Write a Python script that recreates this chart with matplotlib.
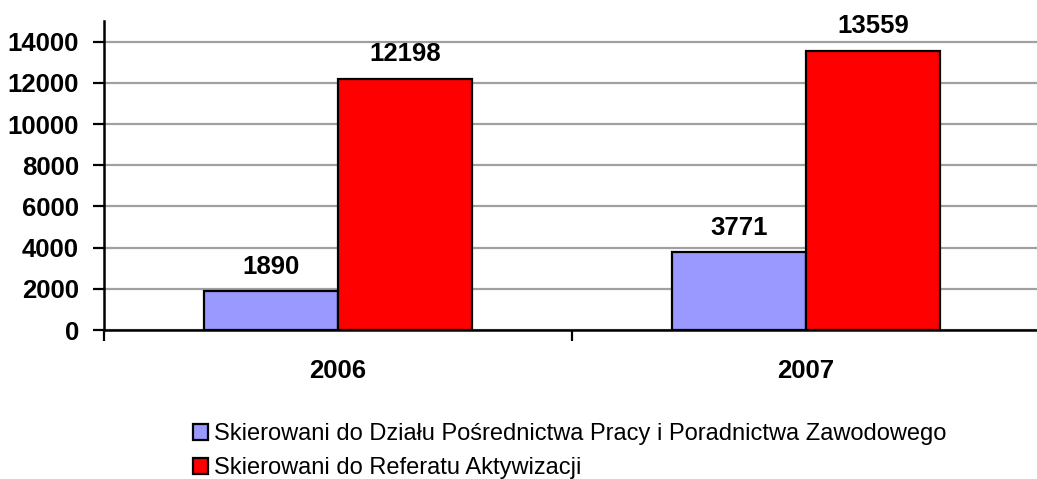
import matplotlib.pyplot as plt
import numpy as np

plt.rcParams['font.family'] = ['Liberation Sans', 'DejaVu Sans']

years = ['2006', '2007']
dzial = [1890, 3771]
referat = [12198, 13559]
series_names = ['Skierowani do Działu Pośrednictwa Pracy i Poradnictwa Zawodowego',
                'Skierowani do Referatu Aktywizacji']
colors = ['#9999ff', '#ff0000']

fig = plt.figure(figsize=(10.37, 4.79), dpi=100)
ax = fig.add_axes([104 / 1037, 149 / 479, 936 / 1037, 309 / 479])

x = np.arange(len(years))
w = 0.287
b1 = ax.bar(x - w / 2, dzial, w, color=colors[0], edgecolor='black', linewidth=1.6,
            label=series_names[0], zorder=3)
b2 = ax.bar(x + w / 2, referat, w, color=colors[1], edgecolor='black', linewidth=1.6,
            label=series_names[1], zorder=3)
for bars in (b1, b2):
    ax.bar_label(bars, labels=[str(v) for v in bars.datavalues], padding=9,
                 fontsize=18.5, fontweight='bold')

ax.set_xlim(-0.5, 1.5)
ax.set_ylim(0, 15000)
ax.set_yticks(np.arange(0, 15000, 2000))
ax.yaxis.grid(True, color='#a0a0a0', linewidth=1.6, zorder=0)
ax.set_axisbelow(True)

ax.set_xticks(x)
ax.set_xticklabels(years, fontsize=18.5, fontweight='bold')
ax.set_xticks([-0.5, 0.5, 1.5], minor=True)
ax.tick_params(axis='x', which='major', length=0, pad=21)
ax.tick_params(axis='x', which='minor', length=8, width=1.6, direction='out')
ax.tick_params(axis='y', length=8, width=1.6, pad=10)
for lbl in ax.get_yticklabels():
    lbl.set_fontsize(18.5)
    lbl.set_fontweight('bold')

for side in ('top', 'right'):
    ax.spines[side].set_visible(False)
for side in ('left', 'bottom'):
    ax.spines[side].set_linewidth(1.8)

fig.legend(handles=[b1, b2], loc='upper left', bbox_to_anchor=(193 / 1037, 1 - 423 / 479),
           frameon=False, fontsize=17, handlelength=0.65, handleheight=0.65,
           handletextpad=0.25, labelspacing=0.52, borderpad=0, borderaxespad=0)

fig.savefig('out.png', dpi=100)
